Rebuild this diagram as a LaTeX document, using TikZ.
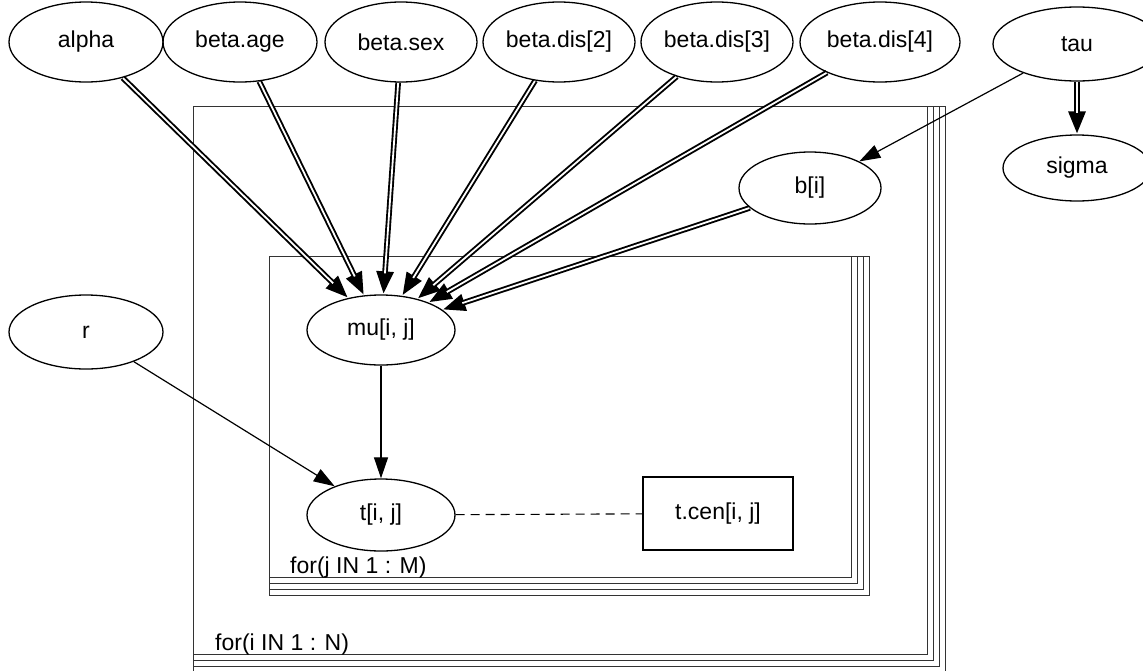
\documentclass[tikz,border=0pt]{standalone}
\usepackage{fontspec}
\setmainfont{Liberation Sans}
\usetikzlibrary{shapes.geometric, arrows.meta, positioning}

\tikzset{
	varnode/.style={draw, ellipse, line width=1.3pt, inner sep=0pt, minimum width=154pt, minimum height=80pt, font=\fontsize{23}{27}\selectfont},
	datanode/.style={draw, rectangle, line width=1.3pt, inner sep=0pt, minimum width=150pt, minimum height=73pt, font=\fontsize{23}{27}\selectfont},
	stocharrow/.style={line width=1.2pt, -{Triangle[length=21pt, width=14pt]}},
	logicarrow/.style={line width=5.6pt, -{Triangle[length=23pt, width=16pt]}},
	logiccore/.style={line width=1.8pt, draw=white, shorten >=21pt, shorten <=0.5pt},
	platebox/.style={line width=0.9pt, draw=black!80},
	platelabel/.style={anchor=base west, inner sep=0pt, font=\fontsize{23}{27}\selectfont},
}

\begin{document}
\begin{tikzpicture}[x=1pt, y=-1pt]
		\useasboundingbox (0,0) rectangle (1143,670);
		\pgfmathsetmacro{\platestep}{6}
		
		\foreach \k in {0,...,3} {
			\draw[platebox] (193,106) rectangle ({927+\k*\platestep}, {654+\k*\platestep});
			\draw[platebox] (269,256) rectangle ({851+\k*\platestep}, {577+\k*\platestep});
		}
		\node[platelabel] (ilabel) at (215,650) {for(i IN 1 : N)};
		\node[platelabel] (jlabel) at (290,573) {for(j IN 1 : M)};
		
		\node[varnode] (alpha) at (86,42) {alpha};
		\node[varnode] (betaage) at (240,42) {beta.age};
		\node[varnode, minimum width=152pt] (betasex) at (401,42) {beta.sex};
		\node[varnode, minimum width=152pt] (betadis2) at (559,42) {beta.dis[2]};
		\node[varnode, minimum width=152pt] (betadis3) at (717,42) {beta.dis[3]};
		\node[varnode, minimum width=160pt] (betadis4) at (880,42) {beta.dis[4]};
		\node[varnode, minimum width=168pt, minimum height=74pt] (tau) at (1077,44) {tau};
		\node[varnode, minimum width=148pt, minimum height=66pt] (sigma) at (1077,168) {sigma};
		\node[varnode, minimum width=142pt, minimum height=72pt] (bi) at (810,188) {b[i]};
		\node[varnode, minimum width=154pt, minimum height=74pt] (r) at (86,332) {r};
		\node[varnode, minimum width=148pt, minimum height=70pt] (mu) at (381,330) {mu[i, j]};
		\node[varnode, minimum width=148pt, minimum height=72pt] (t) at (381,515) {t[i, j]};
		\node[datanode] (tcen) at (718,513.5) {t.cen[i, j]};
		
		\foreach \src/\dst in {alpha/mu,betaage/mu,betasex/mu,betadis2/mu,betadis3/mu,betadis4/mu,bi/mu,tau/sigma} {
			\draw[logicarrow] (\src) -- (\dst);
			\draw[logiccore] (\src) -- (\dst);
		}
		\draw[stocharrow] (tau) -- (bi);
		\draw[stocharrow] (mu) -- (t);
		\draw[stocharrow] (r) -- (t);
		\draw[line width=1.1pt, dash pattern=on 9pt off 6pt] (t) -- (tcen);
\end{tikzpicture}
\end{document}
